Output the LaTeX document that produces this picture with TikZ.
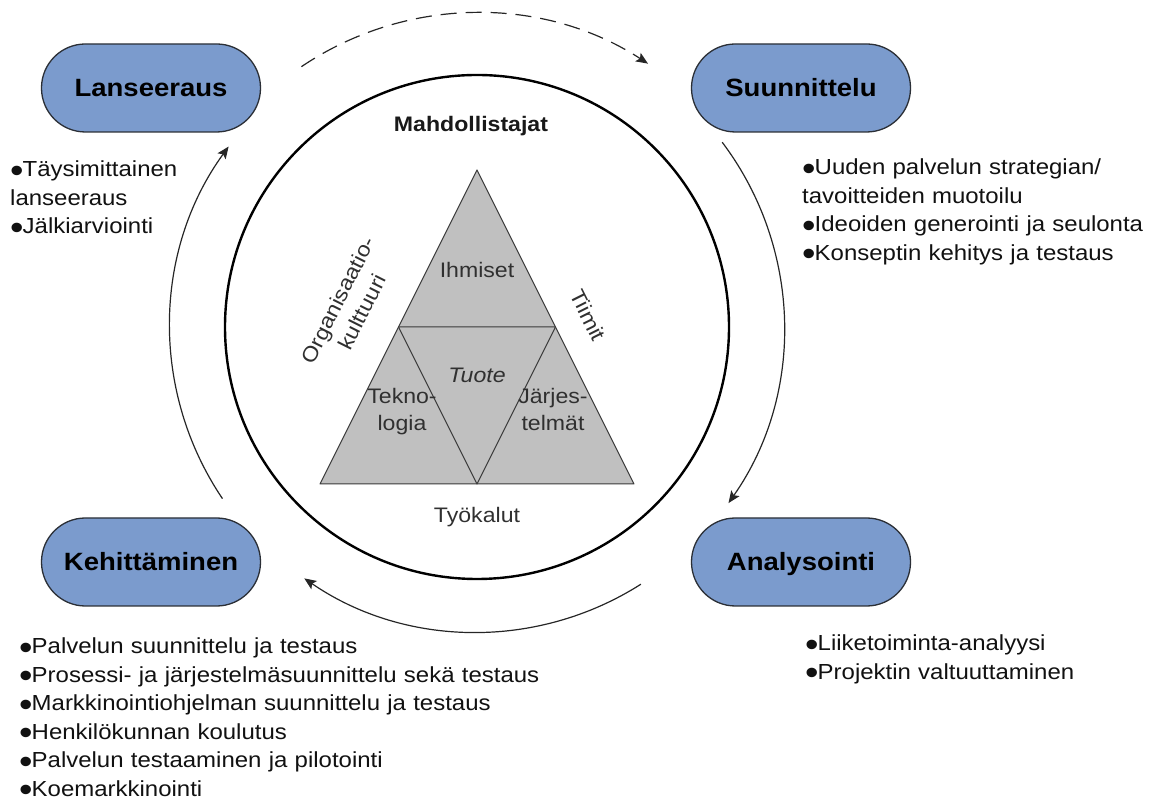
\documentclass[tikz,border=0pt]{standalone}
\usepackage{fontspec}
\setmainfont{Liberation Sans}[FakeStretch=1.1]
\usetikzlibrary{arrows.meta}
\definecolor{phasefill}{HTML}{7B9BCD}
\definecolor{phaseline}{HTML}{2B2F36}
\definecolor{trifill}{HTML}{C0C0C0}
\definecolor{triline}{HTML}{3A3A3A}
\definecolor{inktext}{HTML}{111111}
\definecolor{tritext}{HTML}{303030}
% list bullet: an enlarged dot set in a fixed-width box
\newcommand\bul{\makebox[12.5pt][l]{\raisebox{-5.2pt}{\scalebox{1.6}{•}}}}

\begin{document}
\begin{tikzpicture}[x=1pt,y=1pt,
  phase/.style={draw=phaseline, line width=1.3pt, fill=phasefill, rounded corners=43.9pt,
    minimum width=219pt, minimum height=88pt, inner sep=0pt,
    font=\fontsize{25}{30}\selectfont\bfseries, text=black, text height=18pt, text depth=0pt},
  blist/.style={anchor=base west, align=left, inner sep=0pt, text width=600pt,
    font=\fontsize{21.8}{28.5}\selectfont, text=inktext},
  tri/.style={fill=trifill, draw=triline, line width=1pt, line join=round},
  trilabel/.style={align=center, inner sep=0pt, font=\fontsize{21}{27}\selectfont, text=tritext},
  flow/.style={draw=black!85, line width=1.2pt, -{Stealth[length=12pt,width=10pt,inset=2.5pt]}},
]
\useasboundingbox (0,0) rectangle (1156,800);

% the four phase boxes
\node[phase] (launch)   at (151,712) {Lanseeraus};
\node[phase] (design)   at (801,712) {Suunnittelu};
\node[phase] (develop)  at (151,238) {Kehittäminen};
\node[phase] (analysis) at (801,238) {Analysointi};

% activity lists under each phase
\node[blist] (launchlist) at (10,623) {\bul Täysimittainen\\lanseeraus\\\bul Jälkiarviointi};
\node[blist] (designlist) at (802,625) {\bul Uuden palvelun strategian/\\tavoitteiden muotoilu\\\bul Ideoiden generointi ja seulonta\\\bul Konseptin kehitys ja testaus};
\node[blist] (analysislist) at (805,149) {\bul Liiketoiminta-analyysi\\\bul Projektin valtuuttaminen};
\node[blist] (developlist) at (19,146) {\bul Palvelun suunnittelu ja testaus\\\bul Prosessi- ja järjestelmäsuunnittelu sekä testaus\\\bul Markkinointiohjelman suunnittelu ja testaus\\\bul Henkilökunnan koulutus\\\bul Palvelun testaaminen ja pilotointi\\\bul Koemarkkinointi};

% central circle of enablers
\coordinate (c) at (477,473);
\node[circle, draw=black, line width=2.4pt, minimum size=504pt, inner sep=0pt] (enablers) at (c) {};
\node[anchor=base, inner sep=0pt, font=\fontsize{21}{25}\selectfont\bfseries, text=black!90] (enablerstitle) at (471,668) {Mahdollistajat};

% triangle
\coordinate (apex) at (477,630);
\coordinate (bl) at (320,316);
\coordinate (br) at (634,316);
\coordinate (ml) at (398.5,473);
\coordinate (mr) at (555.5,473);
\coordinate (mb) at (477,316);
\draw[tri] (apex) -- (bl) -- (br) -- cycle;
\draw[tri] (ml) -- (mr) -- (mb) -- cycle;

\node[trilabel, anchor=base] (people) at (477,522) {Ihmiset};
\node[trilabel, anchor=base, font=\fontsize{21}{27}\selectfont\itshape] (product) at (477,417) {Tuote};
\node[trilabel, anchor=base] (tech) at (402,369) {Tekno-\\logia};
\node[trilabel, anchor=base] (systems) at (553,369) {Järjes-\\telmät};
\node[trilabel, anchor=base] (tools) at (477,277) {Työkalut};
\node[trilabel, rotate=63.4] (culture) at (350,494) {Organisaatio-\\kulttuuri};
\node[trilabel, rotate=-63.4] (teams) at (588,485) {Tiimit};

% cycle arrows around the circle
\draw[flow, dashed, dash pattern=on 16pt off 9pt] ([shift={(124:314)}]c) arc[start angle=124, end angle=57, radius=314];
\draw[flow] ([shift={(37:307)}]c) arc[start angle=37, end angle=-35, radius=307];
\draw[flow] ([shift={(-57.5:305)}]c) arc[start angle=-57.5, end angle=-124.5, radius=305];
\draw[flow] ([shift={(214:307)}]c) arc[start angle=214, end angle=144, radius=307];
\end{tikzpicture}
\end{document}
